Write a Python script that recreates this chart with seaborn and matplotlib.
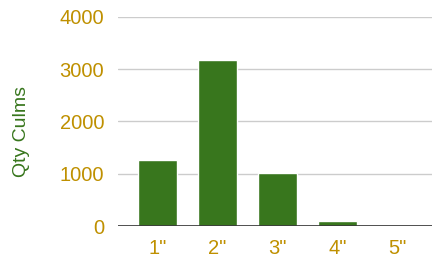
import matplotlib
matplotlib.use("Agg")
import matplotlib.pyplot as plt
import seaborn as sns
import pandas as pd

# Data
sizes = ['1"', '2"', '3"', '4"', '5"']
culms = [1260, 3180, 1020, 100, 0]

gold = "#bf9000"
green = "#38761d"

sns.set_theme(style="white")
plt.rcParams['font.family'] = ['Liberation Sans', 'DejaVu Sans']

df = pd.DataFrame({"Size": sizes, "Qty": culms})

fig = plt.figure(figsize=(4.32, 2.57), dpi=100)
ax = fig.add_axes([0.273, 0.1206, 0.727, 0.8134])

sns.barplot(data=df, x="Size", y="Qty", color=green, saturation=1,
            width=0.65, ax=ax, zorder=3)

ax.set_ylim(0, 4000)
ax.set_yticks([0, 1000, 2000, 3000, 4000])
ax.set_xlim(-0.66, 4.575)
ax.yaxis.grid(True, color="#cccccc", linewidth=1, zorder=0)
ax.axhline(0, color="#333333", linewidth=1.2, zorder=4)

for s in ax.spines.values():
    s.set_visible(False)

ax.tick_params(axis="both", length=0, labelsize=14.5, labelcolor=gold)
ax.tick_params(axis="y", pad=10)
ax.tick_params(axis="x", pad=9)
ax.set_xlabel("")
ax.set_ylabel("")
# axis title sits a bit below the plot's middle, like the original
fig.text(0.05, 0.487, "Qty Culms", color=green, fontsize=14,
         rotation=90, ha="center", va="center")

fig.savefig("out.png", dpi=100)
